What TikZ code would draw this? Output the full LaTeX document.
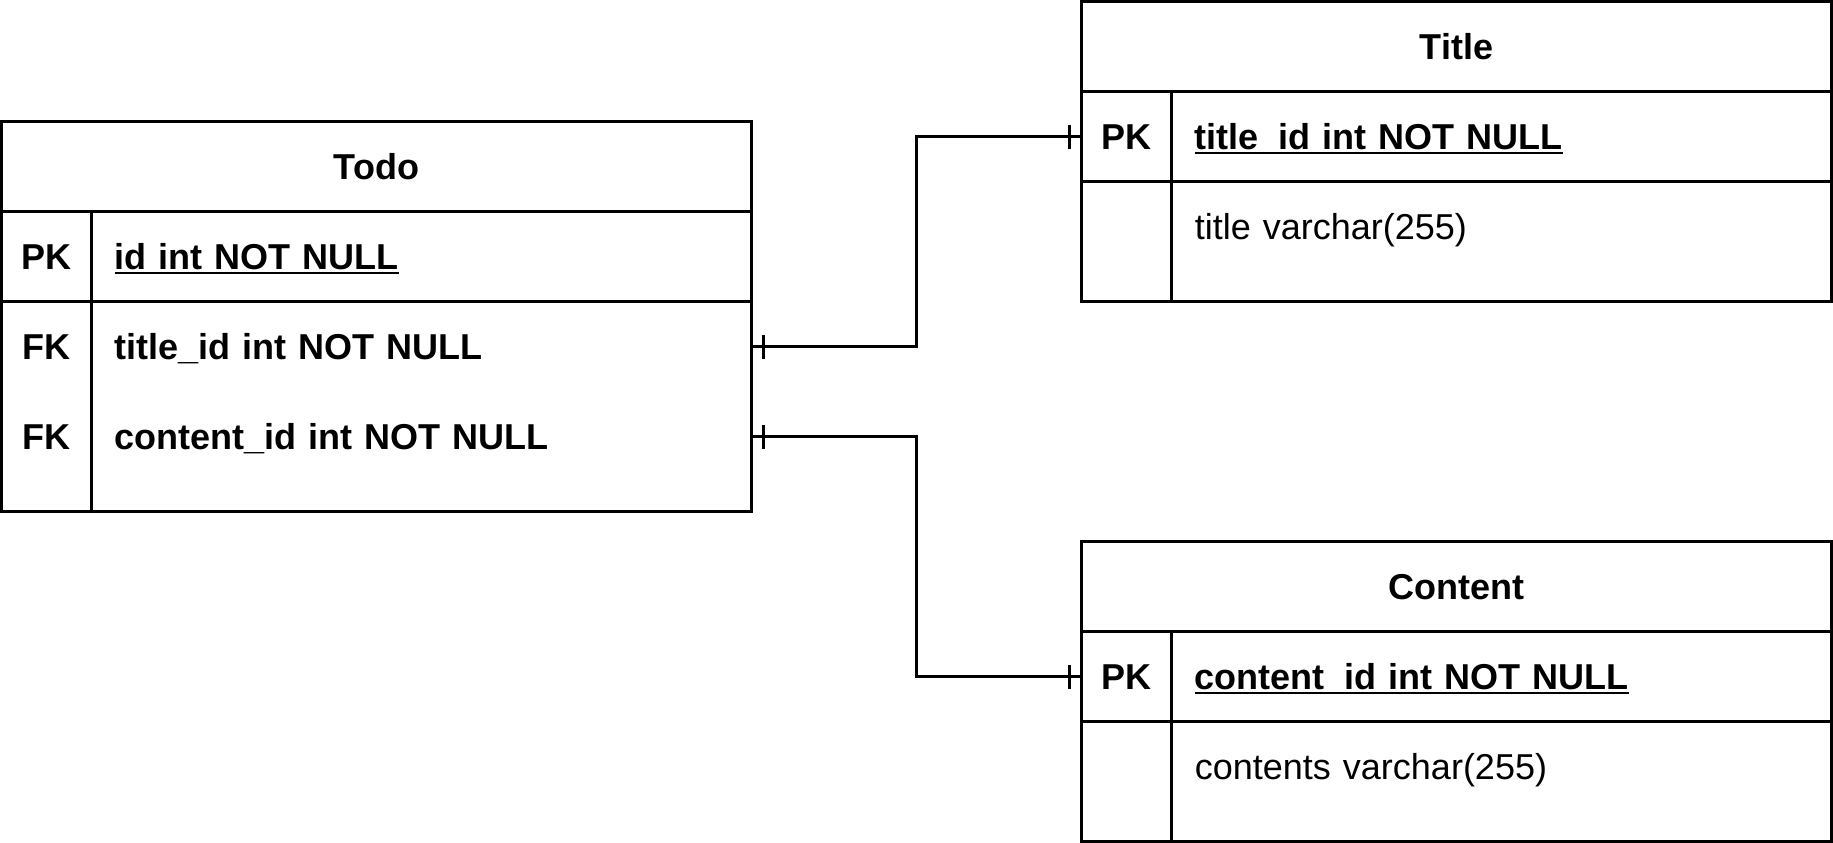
\documentclass[tikz,border=0pt]{standalone}
\usepackage{fontspec}
\setmainfont{Liberation Sans}
\usetikzlibrary{positioning}

\newcommand{\erfont}{\fontsize{12}{14}\selectfont}
\newsavebox{\keybox}
\newcommand{\keyline}[1]{\sbox{\keybox}{#1}\rlap{\rule[-1.3pt]{\wd\keybox}{0.6pt}}\usebox{\keybox}}

\tikzset{
  hdr/.style={draw, minimum width=250pt, minimum height=30pt, inner sep=0pt, outer sep=0pt,
    font=\erfont\bfseries, text height=10pt, text depth=1.1pt},
  keycell/.style={minimum width=30pt, minimum height=30pt, inner sep=0pt, outer sep=0pt,
    font=\erfont\bfseries, text height=10pt, text depth=1.1pt},
  fieldcell/.style={minimum width=220pt, minimum height=30pt, inner xsep=7.8pt, inner ysep=0pt,
    outer sep=0pt, text width=204.4pt, align=left, font=\erfont, text height=10pt, text depth=1.1pt},
  keyfield/.style={fieldcell, font=\erfont\bfseries}
}

\begin{document}
\begin{tikzpicture}[x=1pt, y=-1pt, line width=1pt]
  \useasboundingbox (-0.5,-0.5) rectangle (610.5,280.5);

  % Todo
  \node[hdr] (todo) at (125,55) {Todo};
  \node[keycell, below right=0pt and 0pt of todo.south west] (todo-pk) {PK};
  \node[keyfield, right=0pt of todo-pk] (todo-id) {\keyline{id int NOT NULL}};
  \node[keycell, below=0pt of todo-pk] (todo-fk1) {FK};
  \node[keyfield, right=0pt of todo-fk1] (todo-tid) {title\_id int NOT NULL};
  \node[keycell, below=0pt of todo-fk1] (todo-fk2) {FK};
  \node[keyfield, right=0pt of todo-fk2] (todo-cid) {content\_id int NOT NULL};
  \draw (todo.south west) rectangle ([yshift=-10pt]todo-cid.south east);
  \draw (todo-pk.south west) -- (todo-id.south east);
  \draw (todo-pk.north east) -- ([yshift=-10pt]todo-fk2.south east);

  % Title
  \node[hdr] (title) at (485,15) {Title};
  \node[keycell, below right=0pt and 0pt of title.south west] (title-pk) {PK};
  \node[keyfield, right=0pt of title-pk] (title-tid) {\keyline{title\_id int NOT NULL}};
  \node[keycell, below=0pt of title-pk] (title-nk) {};
  \node[fieldcell, right=0pt of title-nk] (title-name) {title varchar(255)};
  \draw (title.south west) rectangle ([yshift=-10pt]title-name.south east);
  \draw (title-pk.south west) -- (title-tid.south east);
  \draw (title-pk.north east) -- ([yshift=-10pt]title-nk.south east);

  % Content
  \node[hdr] (content) at (485,195) {Content};
  \node[keycell, below right=0pt and 0pt of content.south west] (content-pk) {PK};
  \node[keyfield, right=0pt of content-pk] (content-cid) {\keyline{content\_id int NOT NULL}};
  \node[keycell, below=0pt of content-pk] (content-nk) {};
  \node[fieldcell, right=0pt of content-nk] (content-text) {contents varchar(255)};
  \draw (content.south west) rectangle ([yshift=-10pt]content-text.south east);
  \draw (content-pk.south west) -- (content-cid.south east);
  \draw (content-pk.north east) -- ([yshift=-10pt]content-nk.south east);

  % relations
  \draw (todo-tid.east) -- ++(55,0) |- (title-pk.west);
  \draw (todo-cid.east) -- ++(55,0) |- (content-pk.west);
  \foreach \n/\s in {todo-tid.east/4pt, todo-cid.east/4pt, title-pk.west/-4pt, content-pk.west/-4pt}
    \draw ([xshift=\s]\n) ++(0,-4) -- ++(0,8);
\end{tikzpicture}
\end{document}
